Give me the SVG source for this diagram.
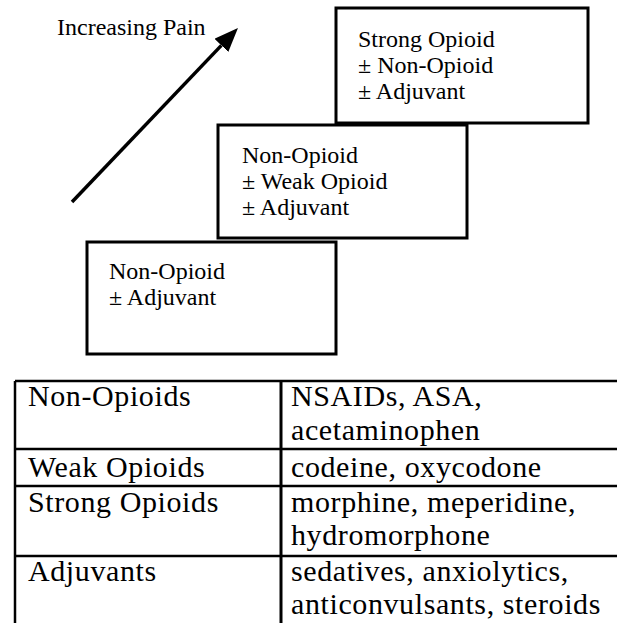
<svg xmlns="http://www.w3.org/2000/svg" width="617" height="623" viewBox="0 0 617 623">
  <style>
    .box { fill: #ffffff; stroke: #000000; stroke-width: 3; }
    .t { font-family: "Liberation Serif", "Times New Roman", serif; fill: #000000; }
    .bt { font-size: 24px; }
    .lbl { font-size: 24px; }
    .tt { font-size: 30px; letter-spacing: 0.6px; }
    .grid { stroke: #000000; stroke-width: 2.5; fill: none; }
    .arrow { stroke: #000000; stroke-width: 3.5; fill: none; }
  </style>
  <defs>
    <marker id="head" viewBox="0 -9.5 24 19" markerWidth="24" markerHeight="19" refX="0" refY="0" orient="auto" markerUnits="userSpaceOnUse">
      <path d="M0,-9.5 L24,0 L0,9.5 Z" fill="#000000"/>
    </marker>
  </defs>
  <rect x="0" y="0" width="617" height="623" fill="#ffffff"/>

  <g id="label-increasing-pain">
    <text class="t lbl" x="57" y="35">Increasing Pain</text>
  </g>

  <g id="connectors">
    <line class="arrow" x1="72" y1="202" x2="221.4" y2="45.4" marker-end="url(#head)"/>
  </g>

  <g id="step3">
    <rect class="box" x="336" y="8" width="252" height="115"/>
    <text class="t bt" x="358" y="47">Strong Opioid</text>
    <text class="t bt" x="358" y="73">± Non-Opioid</text>
    <text class="t bt" x="358" y="99">± Adjuvant</text>
  </g>

  <g id="step2">
    <rect class="box" x="218" y="125" width="249" height="113"/>
    <text class="t bt" x="242" y="163">Non-Opioid</text>
    <text class="t bt" x="242" y="189">± Weak Opioid</text>
    <text class="t bt" x="242" y="215">± Adjuvant</text>
  </g>

  <g id="step1">
    <rect class="box" x="87" y="242" width="249" height="112"/>
    <text class="t bt" x="109" y="279">Non-Opioid</text>
    <text class="t bt" x="109" y="305">± Adjuvant</text>
  </g>

  <g id="drug-table">
    <line class="grid" x1="15" y1="381" x2="630" y2="381"/>
    <line class="grid" x1="15" y1="449" x2="630" y2="449"/>
    <line class="grid" x1="15" y1="486" x2="630" y2="486"/>
    <line class="grid" x1="15" y1="556" x2="630" y2="556"/>
    <line class="grid" x1="15" y1="381" x2="15" y2="630"/>
    <line class="grid" x1="281" y1="381" x2="281" y2="630" style="stroke-width:3"/>

    <text class="t tt" x="28" y="406">Non-Opioids</text>
    <text class="t tt" x="291" y="406">NSAIDs, ASA,</text>
    <text class="t tt" x="291" y="440">acetaminophen</text>

    <text class="t tt" x="28" y="477">Weak Opioids</text>
    <text class="t tt" x="291" y="477">codeine, oxycodone</text>

    <text class="t tt" x="28" y="512">Strong Opioids</text>
    <text class="t tt" x="291" y="512">morphine, meperidine,</text>
    <text class="t tt" x="291" y="545">hydromorphone</text>

    <text class="t tt" x="28" y="581">Adjuvants</text>
    <text class="t tt" x="291" y="581">sedatives, anxiolytics,</text>
    <text class="t tt" x="291" y="614">anticonvulsants, steroids</text>
  </g>
</svg>
